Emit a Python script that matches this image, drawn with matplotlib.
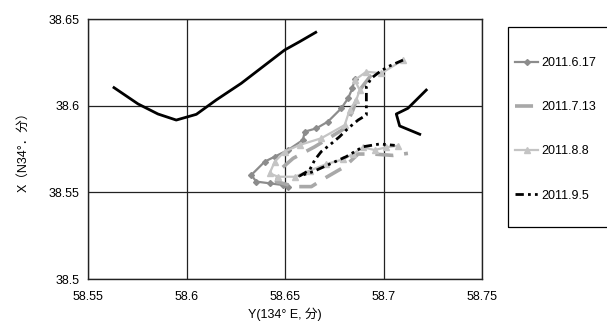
import matplotlib
matplotlib.use("Agg")
import matplotlib.pyplot as plt
from matplotlib.patches import Rectangle

# ---- data ----
coast1_x = [58.5632, 58.5754, 58.5855, 58.5948, 58.6050, 58.6151, 58.6278, 58.6388, 58.6498, 58.6574, 58.6656]
coast1_y = [38.6104, 38.6010, 38.5952, 38.5917, 38.5950, 38.6033, 38.6129, 38.6225, 38.6321, 38.6369, 38.6423]
coast2_x = [58.7217, 58.7124, 58.7065, 58.7082, 58.7184]
coast2_y = [38.6090, 38.5985, 38.5952, 38.5883, 38.5835]

s0617_x = [58.6515, 58.6490, 58.6422, 58.6354, 58.6329, 58.6397, 58.6448, 58.6515, 58.6591, 58.6600,
           58.6659, 58.6718, 58.6786, 58.6820, 58.6842, 58.6854]
s0617_y = [38.5533, 38.5542, 38.5552, 38.5562, 38.5600, 38.5677, 38.5706, 38.5744, 38.5802, 38.5850,
           38.5869, 38.5908, 38.5985, 38.6042, 38.6100, 38.6152]

s0713_x = [58.6938, 58.6879, 58.6845, 58.6803, 58.6651, 58.6541, 58.6473, 58.6456, 58.6549, 58.6634,
           58.6701, 58.6803, 58.6871, 58.6947, 58.7048, 58.7124]
s0713_y = [38.6177, 38.6090, 38.5975, 38.5869, 38.5763, 38.5696, 38.5629, 38.5562, 38.5533, 38.5533,
           38.5581, 38.5648, 38.5721, 38.5721, 38.5713, 38.5725]

s0808_x = [58.7099, 58.6989, 58.6913, 58.6854, 58.6879, 58.6862, 58.6828, 58.6803, 58.6684, 58.6574,
           58.6498, 58.6448, 58.6422, 58.6464, 58.6549, 58.6625, 58.6710, 58.6794, 58.6845, 58.6896,
           58.6955, 58.7014, 58.7074]
s0808_y = [38.6263, 38.6187, 38.6196, 38.6148, 38.6090, 38.6033, 38.5975, 38.5888, 38.5812, 38.5773,
           38.5735, 38.5677, 38.5610, 38.5590, 38.5590, 38.5625, 38.5663, 38.5690, 38.5721, 38.5760,
           38.5744, 38.5760, 38.5769]

s0905_x = [58.7099, 58.7023, 58.6981, 58.6938, 58.6913, 58.6913, 58.6913, 58.6871, 58.6820, 58.6777,
           58.6727, 58.6684, 58.6651, 58.6625, 58.6574, 58.6642, 58.6710, 58.6811, 58.6896, 58.6981,
           58.7057]
s0905_y = [38.6263, 38.6225, 38.6196, 38.6158, 38.6110, 38.6033, 38.5946, 38.5917, 38.5869, 38.5821,
           38.5773, 38.5735, 38.5687, 38.5629, 38.5594, 38.5619, 38.5654, 38.5706, 38.5763, 38.5779,
           38.5771]

labels = ["2011.6.17", "2011.7.13", "2011.8.8", "2011.9.5"]
xticks = [58.55, 58.6, 58.65, 58.7, 58.75]
xtick_labels = ["58.55", "58.6", "58.65", "58.7", "58.75"]
yticks = [38.5, 38.55, 38.6, 38.65]
ytick_labels = ["38.5", "38.55", "38.6", "38.65"]

FONT = ["Liberation Sans", "Noto Sans CJK JP", "DejaVu Sans"]
plt.rcParams["font.family"] = FONT

fig = plt.figure(figsize=(6.07, 3.33), dpi=100)
ax = fig.add_axes([88/607, 1-279/333, (482-88)/607, (279-19)/333])

ax.plot(coast1_x, coast1_y, color="black", lw=2.0, label="_nolegend_", zorder=3)
ax.plot(coast2_x, coast2_y, color="black", lw=2.0, label="_nolegend_", zorder=3)

l1, = ax.plot(s0617_x, s0617_y, color="#8c8c8c", lw=1.6, marker="D", ms=3, label=labels[0], zorder=4)
l2, = ax.plot(s0713_x, s0713_y, color="#a8a8a8", lw=2.6, linestyle=(0, (5, 3)), label=labels[1], zorder=4)
l3, = ax.plot(s0808_x, s0808_y, color="#c4c4c4", lw=1.6, marker="^", ms=5, label=labels[2], zorder=4)
l4, = ax.plot(s0905_x, s0905_y, color="black", lw=2.0, linestyle=(0, (3, 1.5, 1, 1.5, 1, 1.5)),
              label=labels[3], zorder=5)

ax.set_xlim(58.55, 58.75)
ax.set_ylim(38.5, 38.65)
ax.set_xticks(xticks)
ax.set_xticklabels(xtick_labels)
ax.set_yticks(yticks)
ax.set_yticklabels(ytick_labels)
ax.tick_params(axis="x", length=0, labelsize=9, pad=9)
ax.tick_params(axis="y", length=0, labelsize=9, pad=6)
ax.grid(True, color="#222222", lw=0.9)
for sp in ax.spines.values():
    sp.set_color("#222222")
    sp.set_linewidth(1.0)

ax.set_xlabel("Y(134° E, 分)", fontsize=9, labelpad=3)
ax.set_ylabel("X（N34°．分）", fontsize=9, labelpad=14)

# legend frame drawn as a figure rectangle
fig.patches.append(Rectangle((508/607, 1-227/333), 0.2, 200/333, transform=fig.transFigure,
                             fill=False, edgecolor="black", linewidth=0.9, zorder=1))
leg = fig.legend(handles=[l1, l2, l3, l4], loc="upper left",
                 bbox_to_anchor=(515/607, 1-57/333), fontsize=9, frameon=False,
                 borderpad=0, labelspacing=2.58, handlelength=1.85,
                 handletextpad=0.25, borderaxespad=0)

fig.savefig("out.png", dpi=100)
